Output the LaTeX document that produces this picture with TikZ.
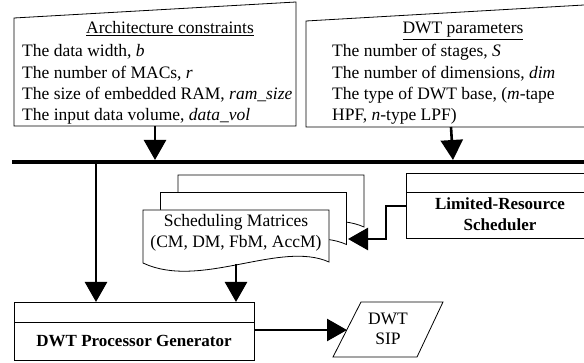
\documentclass[tikz,border=0pt]{standalone}
\usepackage{fontspec}
\setmainfont{Liberation Serif}
\usetikzlibrary{arrows.meta}
\begin{document}
\begin{tikzpicture}[x=1pt,y=-1pt,
  outline/.style={draw=black, line width=0.8pt},
  txt/.style={inner sep=0pt, font=\fontsize{17.5}{21}\selectfont},
  boldtxt/.style={inner sep=0pt, font=\fontsize{17}{21}\selectfont\bfseries},
  flow/.style={line width=2.6pt, -{Triangle[width=22pt,length=20pt]}},
  bus/.style={line width=3.6pt}]
\useasboundingbox (0,0) rectangle (584,363);

% manual-input boxes
\draw[outline] (14,126) -- (14,18) -- (296,2) -- (296,126) -- cycle;
\draw[outline] (584,127) -- (306,127) -- (306,21) -- (584,5);

\node[txt, anchor=base] (archT) at (170,34) {\underline{Architecture constraints}};
\node[txt, anchor=base west] (a1) at (22,57) {The data width, \textit{b}};
\node[txt, anchor=base west] (a2) at (22,78.5) {The number of MACs, \textit{r}};
\node[txt, anchor=base west] (a3) at (22,100) {The size of embedded RAM, \textit{ram\_size}};
\node[txt, anchor=base west] (a4) at (22,121) {The input data volume, \textit{data\_vol}};

\node[txt, anchor=base] (dwtT) at (463,34) {\underline{DWT parameters}};
\node[txt, anchor=base west] (d1) at (332,57) {The number of stages, \textit{S}};
\node[txt, anchor=base west] (d2) at (332,78.5) {The number of dimensions, \textit{dim}};
\node[txt, anchor=base west] (d3) at (332,100) {The type of DWT base, (\textit{m}-tape};
\node[txt, anchor=base west] (d4) at (332,121) {HPF, \textit{n}-type LPF)};

% bus
\coordinate (busL) at (12,162);
\coordinate (busR) at (584,162);
\draw[bus] (busL) -- (busR);

\coordinate (archOut) at (155,126);
\coordinate (busA) at (155,160);
\coordinate (dwtOut) at (451,127);
\coordinate (busB) at (453,160);
\draw[flow] (archOut) -- (busA);
\draw[flow] (dwtOut) -- (busB);

% scheduling matrices (stacked documents)
\foreach \s in {35,17.5,0}
  \draw[outline, fill=white, shift={(\s,-\s)}]
    (143,263) -- (143,210) -- (329,210) -- (329,262)
    .. controls (280,240) and (200,290) .. (143,263) -- cycle;
\node[txt, anchor=base] (sm1) at (236,227) {Scheduling Matrices};
\node[txt, anchor=base] (sm2) at (236,248) {(CM, DM, FbM, AccM)};

% limited-resource scheduler
\draw[outline] (584,173) -- (406,173) -- (406,238) -- (584,238);
\draw[outline] (406,192) -- (584,192);
\node[boldtxt, anchor=base] (lrs1) at (500,210) {Limited-Resource};
\node[boldtxt, anchor=base] (lrs2) at (500,231) {Scheduler};

\coordinate (lrsW) at (406,206);
\coordinate (docR) at (348,239);
\draw[flow] (lrsW) -- (386,206) -- (386,239) -- (docR);

% processor generator
\draw[outline] (14,302) rectangle (254,360);
\draw[outline] (14,322) -- (254,322);
\node[boldtxt, anchor=base] (gen) at (134,347) {DWT Processor Generator};

\coordinate (busC) at (96,163);
\coordinate (genInA) at (96,302);
\coordinate (schOut) at (236,264);
\coordinate (genInB) at (236,302);
\draw[flow] (busC) -- (genInA);
\draw[flow] (schOut) -- (genInB);

% output SIP
\draw[outline] (361,302) -- (443,302) -- (417,357) -- (333,357) -- cycle;
\node[txt, anchor=base] (sip1) at (388,325) {DWT};
\node[txt, anchor=base] (sip2) at (388,345) {SIP};

\coordinate (genE) at (254,330);
\coordinate (sipW) at (347,330);
\draw[flow] (genE) -- (sipW);
\end{tikzpicture}
\end{document}
